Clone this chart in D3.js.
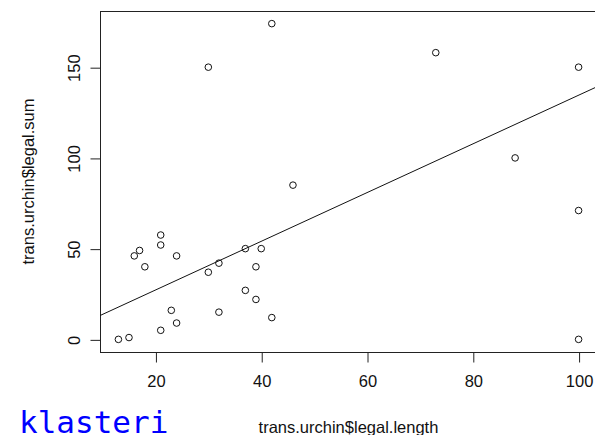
<!DOCTYPE html>
<html>
<head>
<meta charset="utf-8">
<script src="https://cdn.jsdelivr.net/npm/d3@7"></script>
<style>
  html, body { margin: 0; padding: 0; background: #fff; overflow: hidden; }
  svg { display: block; }
</style>
</head>
<body>
<svg id="chart" width="595" height="435"></svg>
<script>
// legal.length (x) and legal.sum (y)
const legalLength = [21, 21, 17, 16, 24, 18, 30, 32, 37, 40, 39, 37, 39, 32, 42, 23, 24, 21, 13, 15, 42, 30, 46, 73, 100, 88, 100, 100];
const legalSum    = [57.5, 52, 49, 46, 46, 40, 37, 42, 50, 50, 40, 27, 22, 15, 12, 16, 9, 5, 0, 1, 174, 150, 85, 158, 150, 100, 71, 0];
const xTicks = [20, 40, 60, 80, 100];
const yTicks = [0, 50, 100, 150];
const fitIntercept = 0.35;
const fitSlope = 1.342;
const xLabel = "trans.urchin$legal.length";
const yLabel = "trans.urchin$legal.sum";
const caption = "klasteri";

(function () {
const svg = d3.select("#chart");
const pLeft = 100, pRight = 597, pTop = 11, pBottom = 352;

// R-style 4% axis extension
const xmin = d3.min(legalLength), xmax = d3.max(legalLength);
const ymin = d3.min(legalSum), ymax = d3.max(legalSum);
const xpad = (xmax - xmin) * 0.04, ypad = (ymax - ymin) * 0.04;
const x = d3.scaleLinear().domain([xmin - xpad, xmax + xpad]).range([pLeft, pRight]);
const y = d3.scaleLinear().domain([ymin - ypad, ymax + ypad]).range([pBottom, pTop]);

const font = "'Liberation Sans', Arial, sans-serif";

// box
svg.append("rect")
  .attr("x", pLeft + 0.5).attr("y", pTop + 0.5)
  .attr("width", pRight - pLeft).attr("height", pBottom - pTop)
  .attr("fill", "none").attr("stroke", "#222").attr("stroke-width", 1);

// x axis
const xAxis = d3.axisBottom(x).tickValues(xTicks).tickSize(10).tickPadding(13).tickFormat(d3.format("d"));
const gx = svg.append("g").attr("transform", `translate(0.5,${pBottom + 0.5})`).call(xAxis);
gx.select(".domain").attr("d", `M${x(xTicks[0])},0H${x(xTicks[xTicks.length-1])}`).attr("stroke", "#222");
gx.selectAll(".tick line").attr("stroke", "#222");
gx.selectAll("text").attr("font-family", font).attr("font-size", 16.5).attr("fill", "#111");

// y axis
const yAxis = d3.axisLeft(y).tickValues(yTicks).tickSize(10).tickFormat(d3.format("d"));
const gy = svg.append("g").attr("transform", `translate(${pLeft + 0.5},0.5)`).call(yAxis);
gy.select(".domain").attr("d", `M0,${y(yTicks[0])}V${y(yTicks[yTicks.length-1])}`).attr("stroke", "#222");
gy.selectAll(".tick line").attr("stroke", "#222");
gy.selectAll(".tick text")
  .attr("font-family", font).attr("font-size", 16.5).attr("fill", "#111")
  .attr("x", null).attr("dy", null)
  .attr("text-anchor", "middle")
  .attr("transform", "translate(-25,0) rotate(-90)")
  .attr("y", 0)
  .attr("dominant-baseline", "middle");

// clip for regression line
svg.append("clipPath").attr("id", "plotclip")
  .append("rect").attr("x", pLeft).attr("y", pTop).attr("width", pRight - pLeft).attr("height", pBottom - pTop);

const xd = x.domain();
svg.append("line")
  .attr("clip-path", "url(#plotclip)")
  .attr("x1", x(xd[0])).attr("y1", y(fitIntercept + fitSlope * xd[0]))
  .attr("x2", x(xd[1])).attr("y2", y(fitIntercept + fitSlope * xd[1]))
  .attr("stroke", "#111").attr("stroke-width", 1);

// points
svg.append("g").selectAll("circle")
  .data(legalLength.map((v, i) => [v, legalSum[i]]))
  .join("circle")
  .attr("cx", d => x(d[0]))
  .attr("cy", d => y(d[1]))
  .attr("r", 3.3)
  .attr("fill", "none")
  .attr("stroke", "#111")
  .attr("stroke-width", 1);

// axis titles
svg.append("text")
  .attr("x", (pLeft + pRight) / 2).attr("y", 433)
  .attr("text-anchor", "middle")
  .attr("font-family", font).attr("font-size", 16.5).attr("fill", "#111")
  .text(xLabel);

svg.append("text")
  .attr("transform", `translate(34,${(pTop + pBottom) / 2}) rotate(-90)`)
  .attr("text-anchor", "middle")
  .attr("font-family", font).attr("font-size", 16.5).attr("fill", "#111")
  .text(yLabel);

// caption
svg.append("text")
  .attr("x", 19).attr("y", 433)
  .attr("font-family", "'DejaVu Sans Mono', 'Liberation Mono', monospace")
  .attr("font-size", 31).attr("fill", "#0000ff")
  .text(caption);
})();
</script>
</body>
</html>
